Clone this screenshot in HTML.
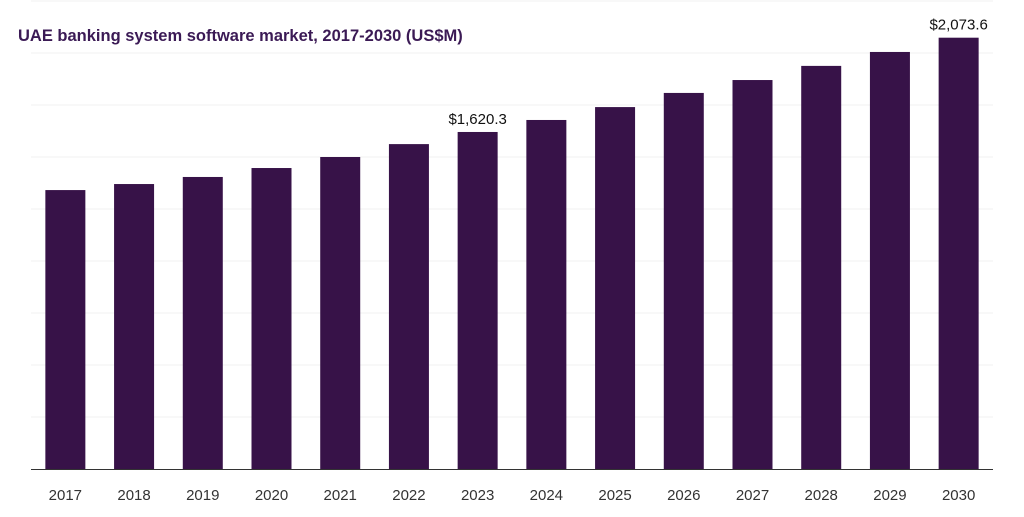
<!DOCTYPE html>
<html><head><meta charset="utf-8"><style>
body{margin:0;background:#fff;font-family:"Liberation Sans",sans-serif}
</style></head><body>
<svg id="chart" width="1024" height="512" xmlns="http://www.w3.org/2000/svg">
<text x="18" y="41" font-family="Liberation Sans, sans-serif" font-size="16.5" font-weight="bold" fill="#3b1a55">UAE banking system software market, 2017-2030 (US$M)</text>
<g id="grid"></g><g id="bars"></g><g id="labels"></g>
<line x1="31" x2="993" y1="469.5" y2="469.5" stroke="#333" stroke-width="1"/>
</svg>
<script>
const categories=["2017","2018","2019","2020","2021","2022","2023","2024","2025","2026","2027","2028","2029","2030"];
const values=[1341,1370,1404,1447,1500,1562,1620.3,1678,1740,1808,1870,1938,2005,2073.6];
const valueLabels=["","","","","","","$1,620.3","","","","","","","$2,073.6"];
const gridTicks=[250,500,750,1000,1250,1500,1750,2000,2250];
const ns="http://www.w3.org/2000/svg";
const x0=31,x1=993,yBase=469,yTop=1,maxV=2250;
const band=(x1-x0)/categories.length,bw=40;
const y=v=>yBase-(v/maxV)*(yBase-yTop);
const xc=i=>x0+band*(i+0.5);
const g=document.getElementById("grid"),b=document.getElementById("bars"),l=document.getElementById("labels");
gridTicks.forEach(t=>{const ln=document.createElementNS(ns,"line");


ln.setAttribute("x1",x0);ln.setAttribute("x2",x1);ln.setAttribute("y1",y(t));ln.setAttribute("y2",y(t));ln.setAttribute("stroke","#f0f0f0");g.appendChild(ln);});
categories.forEach((c,i)=>{
const r=document.createElementNS(ns,"rect");


r.setAttribute("x",xc(i)-bw/2);r.setAttribute("y",y(values[i]));r.setAttribute("width",bw);r.setAttribute("height",yBase-y(values[i]));r.setAttribute("fill","#371248");b.appendChild(r);
const t=document.createElementNS(ns,"text");


t.setAttribute("x",xc(i));t.setAttribute("y",500);t.setAttribute("text-anchor","middle");t.setAttribute("font-size","15");t.setAttribute("fill","#333");t.textContent=c;l.appendChild(t);
if(valueLabels[i]){const v=document.createElementNS(ns,"text");


v.setAttribute("x",xc(i));v.setAttribute("y",y(values[i])-8);v.setAttribute("text-anchor","middle");v.setAttribute("font-size","15");v.setAttribute("fill","#111");v.textContent=valueLabels[i];l.appendChild(v);}
});
</script>
</body></html>
